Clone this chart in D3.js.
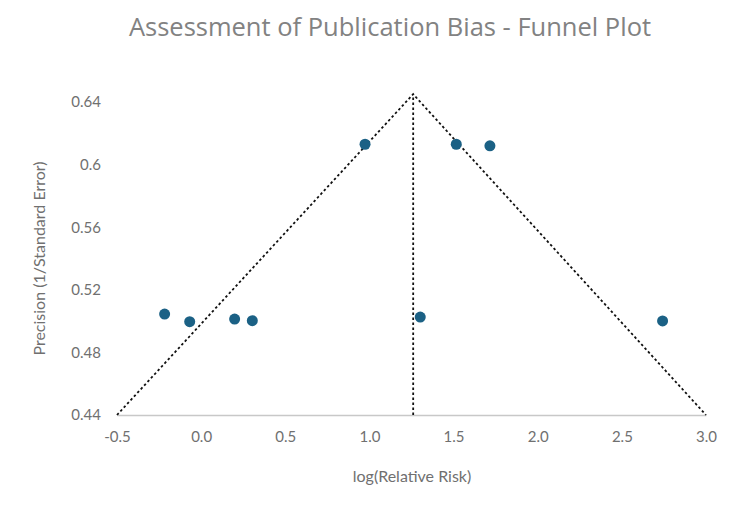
<!DOCTYPE html>
<html>
<head>
<meta charset="utf-8">
<script src="https://cdn.jsdelivr.net/npm/d3@7"></script>
<style>
  body { margin: 0; background: #fff; }
  text { font-family: Lato, "Open Sans", sans-serif; }
</style>
</head>
<body>
<div id="main"></div>
<script>
// DATA
const logRR     = [0.974, 1.516, 1.716, -0.217, -0.068, 0.199, 0.304, 1.302, 2.742]
const precision = [0.613, 0.613, 0.612, 0.5045, 0.4996, 0.5013, 0.5003, 0.5026, 0.5001]

const pooled    = 1.26
const apexPrec  = 0.645
const funnelX   = [-0.5, 1.26, 3.0]
const funnelY   = [0.44, 0.645, 0.44]

const xTicks = [-0.5, 0, 0.5, 1, 1.5, 2, 2.5, 3]
const yTicks = [0.44, 0.48, 0.52, 0.56, 0.6, 0.64]

// SETUP
const width = 750, height = 525
const margin = {left: 117, right: 44, top: 102, bottom: 110}

const x = d3.scaleLinear().domain([-0.5, 3.0]).range([margin.left, width - margin.right])
const y = d3.scaleLinear().domain([0.44, 0.64]).range([height - margin.bottom, margin.top])

const svg = d3.select("#main").append("svg")
    .attr("width", width)
    .attr("height", height)

// TITLE
svg.append("text")
    .attr("x", 390).attr("y", 36)
    .attr("text-anchor", "middle")
    .attr("fill", "#828282")
    .style("font-size", "25.5px")
    .style("font-family", "'Open Sans', sans-serif")
    .text("Assessment of Publication Bias - Funnel Plot")

// AXES
const fmtX = d => d3.format(".1f")(d).replace("\u2212", "-")
const xAxis = svg.append("g")
    .attr("transform", `translate(0,${y(0.44)})`)
    .call(d3.axisBottom(x).tickValues(xTicks).tickFormat(fmtX).tickSize(0).tickPadding(16))
xAxis.select(".domain").attr("stroke", "#c8c8c8").attr("stroke-width", 1.5)
xAxis.selectAll("text").attr("fill", "#707070").style("font-size", "15px")

const yAxis = svg.append("g")
    .attr("transform", `translate(${margin.left - 16},0)`)
    .call(d3.axisLeft(y).tickValues(yTicks).tickFormat(d => String(+d.toFixed(2))).tickSize(0).tickPadding(0))
yAxis.select(".domain").remove()
yAxis.selectAll("text").attr("fill", "#707070").style("font-size", "15px")

svg.append("text")
    .attr("x", 412).attr("y", 482)
    .attr("text-anchor", "middle")
    .attr("fill", "#707070")
    .style("font-size", "16px")
    .text("log(Relative Risk)")

svg.append("text")
    .attr("transform", `translate(45,${(y(0.44) + y(0.64)) / 2}) rotate(-90)`)
    .attr("text-anchor", "middle")
    .attr("fill", "#707070")
    .style("font-size", "16px")
    .text("Precision (1/Standard Error)")

// FUNNEL
const line = d3.line().x(d => x(d[0])).y(d => y(d[1]))
svg.append("path")
    .datum(d3.zip(funnelX, funnelY))
    .attr("d", line)
    .attr("fill", "none")
    .attr("stroke", "#111")
    .attr("stroke-width", 1.8)
    .attr("stroke-dasharray", "2.5,2.5")

svg.append("path")
    .datum([[pooled, 0.44], [pooled, apexPrec]])
    .attr("d", line)
    .attr("fill", "none")
    .attr("stroke", "#111")
    .attr("stroke-width", 1.8)
    .attr("stroke-dasharray", "2.5,2.5")

// POINTS
svg.selectAll("circle.study")
    .data(d3.zip(logRR, precision))
    .enter().append("circle")
        .attr("class", "study")
        .attr("cx", d => x(d[0]))
        .attr("cy", d => y(d[1]))
        .attr("r", 5.5)
        .attr("fill", "#1b6185")
</script>
</body>
</html>
